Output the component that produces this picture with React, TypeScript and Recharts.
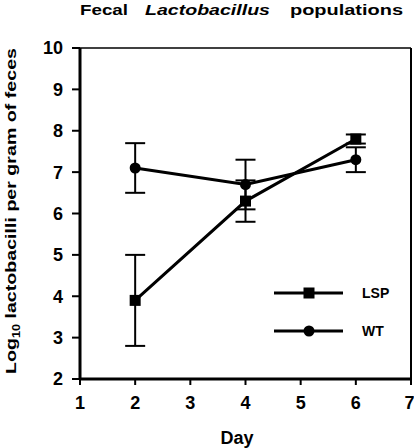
import React from 'react';
import { LineChart, Line, XAxis, YAxis, ErrorBar, ReferenceLine } from 'recharts';

const days = [2, 4, 6];
const lspMeans = [3.9, 6.3, 7.8];
const lspErrors = [1.1, 0.5, 0.11];
const wtMeans = [7.1, 6.7, 7.3];
const wtErrors = [0.6, 0.6, 0.3];
const xTicks = [1, 2, 3, 4, 5, 6, 7];
const yTicks = [2, 3, 4, 5, 6, 7, 8, 9, 10];
const seriesNames = ['LSP', 'WT'];

const data = days.map((d, i) => ({
  day: d,
  lsp: lspMeans[i],
  lspErr: lspErrors[i],
  wt: wtMeans[i],
  wtErr: wtErrors[i],
}));

const FONT = '"Liberation Sans", Arial, Helvetica, sans-serif';

const SquareDot = (props: any) => {
  const { cx, cy, index } = props;
  if (cx == null || cy == null) return null;
  return <rect key={`sq-${index}`} x={cx - 5.5} y={cy - 5.5} width={11} height={11} fill="#000" />;
};

const CircleDot = (props: any) => {
  const { cx, cy, index } = props;
  if (cx == null || cy == null) return null;
  return <circle key={`ci-${index}`} cx={cx} cy={cy} r={5.5} fill="#000" />;
};

const LegendBox = () => (
  <svg width={120} height={60} style={{ display: 'block' }}>
    <line x1={4} y1={12} x2={73} y2={12} stroke="#000" strokeWidth={3} />
    <rect x={33.5} y={6.5} width={11} height={11} fill="#000" />
    <text x={92} y={12} dominantBaseline="central" fontFamily={FONT} fontWeight="bold" fontSize={14} fill="#000">{seriesNames[0]}</text>
    <line x1={4} y1={50} x2={73} y2={50} stroke="#000" strokeWidth={3} />
    <circle cx={39} cy={50} r={5.5} fill="#000" />
    <text x={92} y={50} dominantBaseline="central" fontFamily={FONT} fontWeight="bold" fontSize={14} fill="#000">{seriesNames[1]}</text>
  </svg>
);

const YLabel = () => (
  <text
    x={16}
    y={374}
    transform="rotate(-90 16 374)"
    textAnchor="start"
    fontFamily={FONT}
    fontWeight="bold"
    fontSize={15.5}
    fill="#000"
    textLength={326}
    lengthAdjust="spacingAndGlyphs"
  >
    Log<tspan fontSize={10} dy={4}>10</tspan>
    <tspan dy={-4}> lactobacilli per gram of feces</tspan>
  </text>
);

const XLabel = () => (
  <text x={237} y={438} textAnchor="middle" dominantBaseline="central" fontFamily={FONT} fontWeight="bold" fontSize={18} fill="#000">
    Day
  </text>
);

const Title = () => (
  <svg width={414} height={24} style={{ position: 'absolute', left: 0, top: 0, display: 'block' }}>
    <text x={80} y={15} fontFamily={FONT} fontWeight="bold" fontSize={14.5} fill="#000" textLength={48} lengthAdjust="spacingAndGlyphs">Fecal</text>
    <text x={145} y={15} fontFamily={FONT} fontWeight="bold" fontStyle="italic" fontSize={14.5} fill="#000" textLength={125} lengthAdjust="spacingAndGlyphs">Lactobacillus</text>
    <text x={290} y={15} fontFamily={FONT} fontWeight="bold" fontSize={14.5} fill="#000" textLength={113} lengthAdjust="spacingAndGlyphs">populations</text>
  </svg>
);

export default function App() {
  const tickStyle = { fontSize: 18, fontWeight: 'bold' as const, fill: '#000', fontFamily: FONT };
  return (
    <div style={{ position: 'absolute', left: 0, top: 0, width: 414, height: 448, background: '#fff' }}>
      <LineChart width={414} height={448} data={data} margin={{ top: 48, right: 3, left: 0, bottom: 0 }}>
        <XAxis
          dataKey="day"
          type="number"
          domain={[1, 7]}
          ticks={xTicks}
          height={69}
          axisLine={{ stroke: '#000', strokeWidth: 3 }}
          tickLine={{ stroke: '#000', strokeWidth: 2 }}
          tickSize={6}
          tickMargin={11}
          tick={tickStyle}
          label={{ content: () => <XLabel /> }}
        />
        <YAxis
          type="number"
          domain={[2, 10]}
          ticks={yTicks}
          width={80}
          axisLine={{ stroke: '#000', strokeWidth: 3 }}
          tickLine={{ stroke: '#000', strokeWidth: 2 }}
          tickSize={8}
          tickMargin={9}
          tick={tickStyle}
          label={{ content: () => <YLabel /> }}
        />
        <ReferenceLine y={10} stroke="#000" strokeWidth={1.5} />
        <ReferenceLine x={7} stroke="#000" strokeWidth={2} />
        <Line
          dataKey="wt"
          name={seriesNames[1]}
          stroke="#000"
          strokeWidth={3}
          dot={CircleDot}
          activeDot={false}
          isAnimationActive={false}
        >
          <ErrorBar dataKey="wtErr" width={10} stroke="#000" strokeWidth={2} direction="y" />
        </Line>
        <Line
          dataKey="lsp"
          name={seriesNames[0]}
          stroke="#000"
          strokeWidth={3}
          dot={SquareDot}
          activeDot={false}
          isAnimationActive={false}
        >
          <ErrorBar dataKey="lspErr" width={10} stroke="#000" strokeWidth={2} direction="y" />
        </Line>
      </LineChart>
      <Title />
      <div style={{ position: 'absolute', left: 270, top: 281 }}>
        <LegendBox />
      </div>
    </div>
  );
}
